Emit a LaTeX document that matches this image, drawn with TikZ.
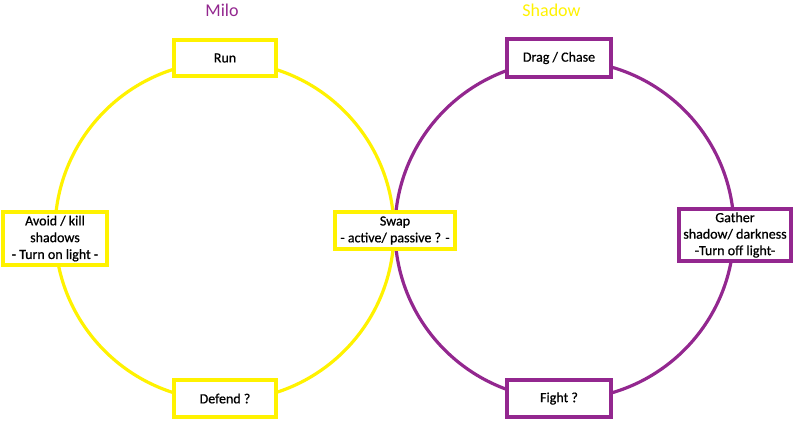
\documentclass[tikz,border=0pt]{standalone}
\usepackage{fontspec}
\setmainfont{Carlito}
\newfontface\boxfont[FakeBold=0.7]{Carlito}
\definecolor{myyellow}{RGB}{255,242,0}
\definecolor{mypurple}{RGB}{147,39,143}
\begin{document}
\begin{tikzpicture}[x=1pt,y=-1pt,
  ring/.style={line width=3.2pt},
  boxy/.style={draw=myyellow,line width=3.6pt,fill=white,inner sep=0pt,align=center,font=\boxfont\fontsize{14}{16.8}\selectfont},
  boxp/.style={draw=mypurple,line width=3.6pt,fill=white,inner sep=0pt,align=center,font=\boxfont\fontsize{14}{16.5}\selectfont},
  ttl/.style={font=\fontsize{18}{20}\selectfont,inner sep=0pt}]
\useasboundingbox (0,0) rectangle (794,420);
\coordinate (cm) at (224.5,231);
\coordinate (cs) at (564.5,230);
\draw[ring,draw=myyellow] (cm) circle[radius=169.5];
\draw[ring,draw=mypurple] (cs) circle[radius=169.5];
\node[ttl,text=mypurple] (milo) at (222,10) {Milo};
\node[ttl,text=myyellow] (shadow) at (551.5,10) {Shadow};
\node[boxy,minimum width=102.5,minimum height=36.5] (run) at (225,58) {Run};
\node[boxy,minimum width=104.5,minimum height=53.5] (avoid) at (55,238.5) {Avoid / kill\\shadows\\- Turn on light -};
\node[boxy,minimum width=120.5,minimum height=37.5] (swap) at (395,230.5) {Swap\\- active/ passive ? -};
\node[boxy,minimum width=102.5,minimum height=37.5] (defend) at (225,398.5) {Defend ?};
\node[boxp,minimum width=103.5,minimum height=37.5] (drag) at (559,58) {Drag / Chase};
\node[boxp,minimum width=112.5,minimum height=52.5] (gather) at (735,235) {Gather\\shadow/ darkness\\-Turn off light-};
\node[boxp,minimum width=103.5,minimum height=37.5] (fight) at (559,398.5) {Fight ?};
\end{tikzpicture}
\end{document}
